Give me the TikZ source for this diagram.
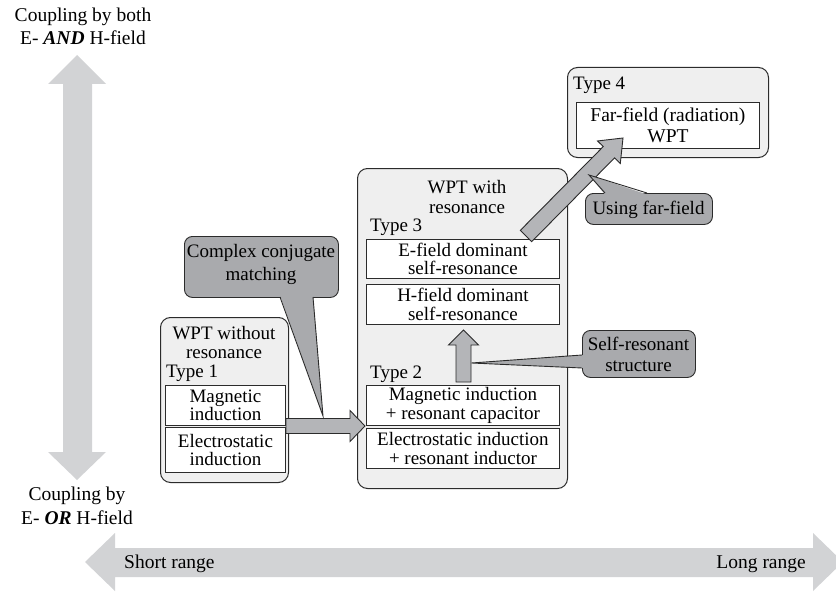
\documentclass[tikz,border=0pt]{standalone}
\usepackage{fontspec}
\setmainfont{Liberation Serif}
\usetikzlibrary{calc}
\definecolor{outerfill}{HTML}{EFEFEF}
\definecolor{calloutfill}{HTML}{A9AAAD}
\definecolor{arrowfill}{HTML}{B4B5B8}
\definecolor{axisfill}{HTML}{D2D3D5}
\definecolor{linec}{HTML}{2B2B2B}
\newcommand{\myfatarrow}[6][fatarrow]{%
  \coordinate (fa-a) at (#2);
  \coordinate (fa-b) at (#3);
  \coordinate (fa-h) at ($(fa-b)!#6!(fa-a)$);
  \draw[#1] ($(fa-a)!#4!90:(fa-b)$) -- ($(fa-h)!#4!90:(fa-b)$) -- ($(fa-h)!#5!90:(fa-b)$) -- (fa-b) -- ($(fa-h)!#5!-90:(fa-b)$) -- ($(fa-h)!#4!-90:(fa-b)$) -- ($(fa-a)!#4!-90:(fa-b)$) -- cycle;
}
\begin{document}
\begin{tikzpicture}[x=1pt,y=-1pt,
  font=\fontsize{19}{18.5}\selectfont,
  outerbox/.style={draw=linec, fill=outerfill, rounded corners=10pt, line width=1pt, anchor=north west, inner sep=0pt},
  innerbox/.style={draw=linec, fill=white, line width=0.9pt, align=center, inner sep=0pt, anchor=north west},
  calloutbox/.style={draw=linec, fill=calloutfill, line width=0.9pt, rounded corners=8pt, anchor=north west, inner sep=0pt},
  pointer/.style={draw=linec, line width=0.9pt, line join=miter},
  fatarrow/.style={draw=linec, fill=arrowfill, line width=0.9pt, line join=miter},
  lbl/.style={inner sep=0pt, align=center},
  axislbl/.style={inner sep=0pt, font=\fontsize{19.5}{24}\selectfont}]
\useasboundingbox (0,0) rectangle (836,594);

% axis arrows
\fill[axisfill] (77,55) -- (106,84) -- (92,84) -- (92,452) -- (106,452) -- (77,480) -- (48,452) -- (63,452) -- (63,84) -- (48,84) -- cycle;
\fill[axisfill] (85,562) -- (115,533) -- (115,548) -- (813,548) -- (813,533) -- (843,562) -- (813,591) -- (813,577) -- (115,577) -- (115,591) -- cycle;

\node[axislbl, anchor=base] (top1) at (83,22) {Coupling by both};
\node[axislbl, anchor=base] (top2) at (83,45) {E- \textbf{\textit{AND}} H-field};
\node[axislbl, anchor=base] (bot1) at (77,500) {Coupling by};
\node[axislbl, anchor=base] (bot2) at (77,524) {E- \textbf{\textit{OR}} H-field};
\node[axislbl, anchor=base west] (short) at (124,568) {Short range};
\node[axislbl, anchor=base east] (long) at (806,568) {Long range};

% left box
\node[outerbox, minimum width=128, minimum height=165] (lbox) at (160,317) {};
\node[lbl, anchor=base] (lt1) at (224,339) {WPT without};
\node[lbl, anchor=base] (lt2) at (224,358) {resonance};
\node[lbl, anchor=base west] (type1) at (166,377) {Type 1};
\node[innerbox, minimum width=120, minimum height=40] (mag) at (165,385) {Magnetic\\induction};
\node[innerbox, minimum width=120, minimum height=45] (elec) at (165,427) {Electrostatic\\induction};

% middle box
\node[outerbox, minimum width=210, minimum height=320] (mbox) at (357,168) {};
\node[lbl, anchor=base] (mt1) at (467,193) {WPT with};
\node[lbl, anchor=base] (mt2) at (467,213) {resonance};
\node[lbl, anchor=base west] (type3) at (370,231) {Type 3};
\node[innerbox, minimum width=193, minimum height=39] (efield) at (366,239) {E-field dominant\\self-resonance};
\node[innerbox, minimum width=193, minimum height=40] (hfield) at (366,284) {H-field dominant\\self-resonance};
\node[lbl, anchor=base west] (type2) at (370,378) {Type 2};
\node[innerbox, minimum width=193, minimum height=40] (magcap) at (366,385) {Magnetic induction\\+ resonant capacitor};
\node[innerbox, minimum width=193, minimum height=40] (elind) at (366,428) {Electrostatic induction\\+ resonant inductor};

% type 4 box
\node[outerbox, minimum width=201, minimum height=90] (tbox) at (567,67) {};
\node[lbl, anchor=base west] (type4) at (573,90) {Type 4};
\node[innerbox, minimum width=183, minimum height=46, font=\fontsize{19.5}{21}\selectfont] (far) at (576,102) {Far-field (radiation)\\WPT};

% arrows
\coordinate (a1s) at (286,426);
\coordinate (a1e) at (365,426);
\myfatarrow{a1s}{a1e}{7.5pt}{15.5pt}{15pt}
\coordinate (a2s) at (463.5,382);
\coordinate (a2e) at (463.5,330);
\myfatarrow{a2s}{a2e}{7.5pt}{15pt}{15pt}
\coordinate (a3s) at (526,236);
\coordinate (a3e) at (623,138);
\myfatarrow{a3s}{a3e}{8pt}{16pt}{20pt}

% callout: complex conjugate matching
\node[calloutbox, minimum width=154, minimum height=61] (cc) at (184,236) {};
\node[lbl, anchor=base] (cct1) at (261,257) {Complex conjugate};
\node[lbl, anchor=base] (cct2) at (261,280) {matching};
\coordinate (ccp) at (323,416);
\fill[calloutfill] (280,295.5) -- (ccp) -- (313,295.5) -- cycle;
\draw[pointer] (280,297) -- (ccp) -- (313,297);

% callout: self-resonant structure
\node[calloutbox, minimum width=113, minimum height=47] (sr) at (582,330) {};
\node[lbl, anchor=base] (srt1) at (638.5,350) {Self-resonant};
\node[lbl, anchor=base] (srt2) at (638.5,371) {structure};
\coordinate (srp) at (471.5,363);
\fill[calloutfill] (583.5,355) -- (srp) -- (583.5,368) -- cycle;
\draw[pointer] (582,355) -- (srp) -- (582,368);

% callout: using far-field
\node[calloutbox, minimum width=127, minimum height=31] (uf) at (585,193) {};
\node[lbl, anchor=base] (uft) at (648.5,214) {Using far-field};
\coordinate (ufp) at (589,175);
\fill[calloutfill] (605,194.5) -- (ufp) -- (647,194.5) -- cycle;
\draw[pointer] (605,193) -- (ufp) -- (647,193);
\end{tikzpicture}
\end{document}
